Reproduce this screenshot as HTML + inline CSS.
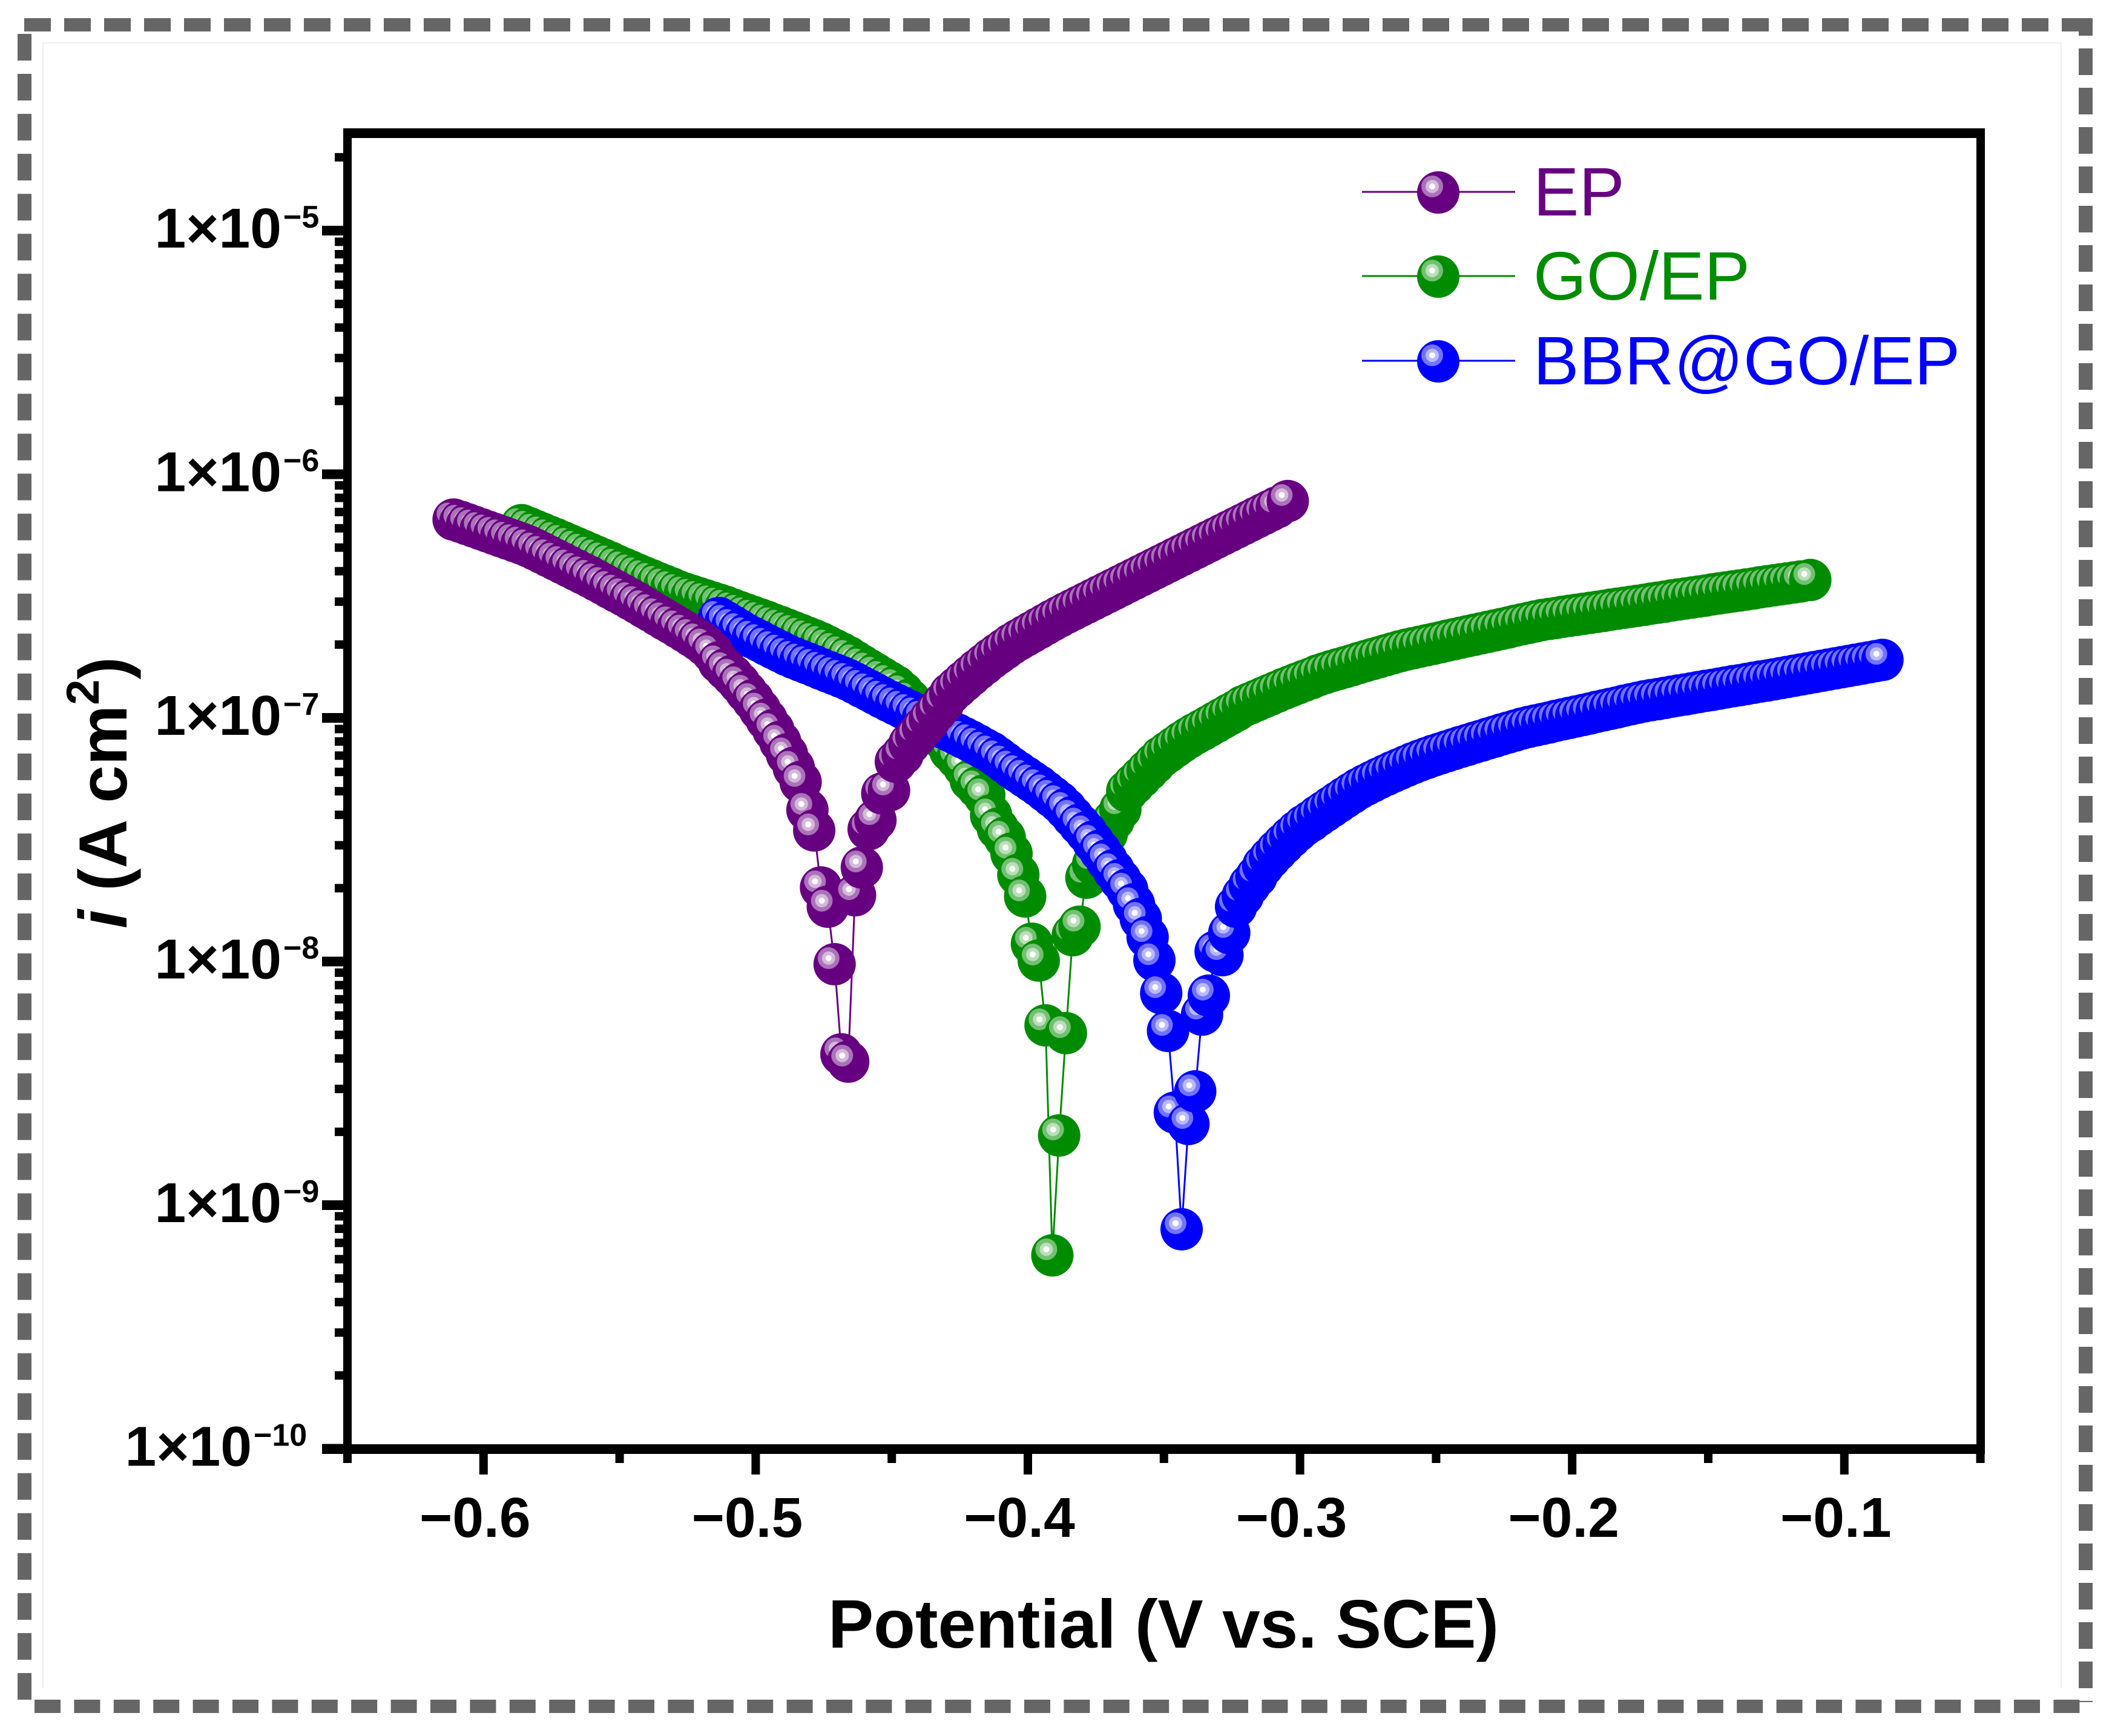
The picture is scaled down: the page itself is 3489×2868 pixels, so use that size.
<!DOCTYPE html>
<html lang="en">
<head>
<meta charset="utf-8">
<title>Polarization curves</title>
<style>
html,body{margin:0;padding:0;background:#fff;}
svg{display:block;font-family:"Liberation Sans",Arial,sans-serif;}
</style>
</head>
<body>
<svg id="chart" xmlns="http://www.w3.org/2000/svg" width="3489" height="2868" viewBox="0 0 3489 2868">
  <rect x="0" y="0" width="3489" height="2868" fill="#ffffff"/>
  <polyline points="71,2788 71,71 3405,71 3405,2788" fill="none" stroke="#eeeeee" stroke-width="2"/>
  <line x1="40" y1="41" x2="3457" y2="41" stroke="#666666" stroke-width="22" stroke-dasharray="44 22"/>
  <line x1="40.5" y1="56" x2="40.5" y2="2812" stroke="#666666" stroke-width="23" stroke-dasharray="44 22.05"/>
  <line x1="3445.5" y1="30" x2="3445.5" y2="2812" stroke="#666666" stroke-width="23" stroke-dasharray="44 21" stroke-dashoffset="15"/>
  <line x1="57" y1="2819" x2="3457" y2="2819" stroke="#666666" stroke-width="22" stroke-dasharray="43 22.4"/>

  <g id="series-layer"></g>
  <g id="tick-layer"></g>

  <rect x="567" y="212" width="14" height="2190" fill="#000"/>
  <rect x="567" y="212" width="2712" height="16" fill="#000"/>
  <rect x="3265" y="212" width="14" height="2190" fill="#000"/>
  <rect x="532" y="2386" width="2747" height="16" fill="#000"/>

  <text x="1368" y="2722" font-size="113" font-weight="700" fill="#000" textLength="1108" lengthAdjust="spacingAndGlyphs">Potential (V vs. SCE)</text>
  <text transform="translate(209,1534) rotate(-90)" font-size="112" font-weight="700" fill="#000"><tspan font-style="italic">i</tspan> (A cm<tspan font-size="76" dy="-46">2</tspan><tspan dy="46">)</tspan></text>

  <g id="legend-layer"></g>
</svg>
<script>
// Potential (V vs. SCE) and log10 of current density.
var epPotential = [
-.611,-.6085,-.606,-.6035,-.601,-.5985,-.596,-.5935,-.591,-.5885,
-.586,-.5835,-.581,-.5785,-.576,-.5735,-.571,-.5685,-.566,-.5635,
-.561,-.5585,-.556,-.5535,-.551,-.5485,-.546,-.5435,-.541,-.5385,
-.536,-.5335,-.531,-.5285,-.526,-.5235,-.521,-.5185,-.516,-.5135,
-.511,-.5085,-.506,-.5035,-.501,-.4985,-.496,-.4935,-.491,-.4885,
-.486,-.4835,-.481,-.4785,-.476,-.4735,-.471,-.4685,-.466,-.4635,
-.461,-.4585,-.456,-.4535,-.451,-.4485,-.446,-.4435,-.441,-.4385,
-.436,-.4335,-.431,-.4285,-.426,-.4235,-.421,-.4185,-.416,-.4135,
-.411,-.4085,-.406,-.4035,-.401,-.3985,-.396,-.3935,-.391,-.3885,
-.386,-.3835,-.381,-.3785,-.376,-.3735,-.371,-.3685,-.366,-.3635,
-.361,-.3585,-.356,-.3535,-.351,-.3485,-.346,-.3435,-.341,-.3385,
-.336,-.3335,-.331,-.3285,-.326,-.3235,-.321,-.3185,-.316,-.3135,
-.311,-.3085,-.3045];
var epLogCurrent = [
-6.186,-6.195,-6.205,-6.215,-6.225,-6.235,-6.245,-6.255,-6.265,-6.275,
-6.285,-6.296,-6.309,-6.323,-6.337,-6.351,-6.365,-6.379,-6.393,-6.407,
-6.421,-6.436,-6.451,-6.467,-6.482,-6.497,-6.513,-6.529,-6.546,-6.562,
-6.579,-6.596,-6.612,-6.629,-6.646,-6.664,-6.682,-6.703,-6.730,-6.772,
-6.800,-6.827,-6.858,-6.893,-6.927,-6.966,-7.007,-7.050,-7.098,-7.150,
-7.205,-7.263,-7.378,-7.462,-7.696,-7.775,-8.011,-8.381,-8.411,-7.728,
-7.614,-7.457,-7.420,-7.310,-7.298,-7.180,-7.150,-7.106,-7.075,-7.040,
-7.006,-6.972,-6.938,-6.900,-6.875,-6.850,-6.826,-6.802,-6.780,-6.757,
-6.737,-6.717,-6.697,-6.680,-6.664,-6.648,-6.632,-6.616,-6.600,-6.585,
-6.570,-6.556,-6.542,-6.528,-6.514,-6.500,-6.486,-6.472,-6.458,-6.444,
-6.430,-6.416,-6.402,-6.388,-6.374,-6.360,-6.346,-6.332,-6.318,-6.304,
-6.290,-6.276,-6.262,-6.248,-6.234,-6.220,-6.206,-6.192,-6.178,-6.164,
-6.150,-6.136,-6.110];

var goPotential = [
-.586,-.5835,-.581,-.5785,-.576,-.5735,-.571,-.5685,-.566,-.5635,
-.561,-.5585,-.556,-.5535,-.551,-.5485,-.546,-.5435,-.541,-.5385,
-.536,-.5335,-.531,-.5285,-.526,-.5235,-.521,-.5185,-.516,-.5135,
-.511,-.5085,-.506,-.5035,-.501,-.4985,-.496,-.4935,-.491,-.4885,
-.486,-.4835,-.481,-.4785,-.476,-.4735,-.471,-.4685,-.466,-.4635,
-.461,-.4585,-.456,-.4535,-.451,-.4485,-.446,-.4435,-.441,-.4385,
-.436,-.4335,-.431,-.4285,-.426,-.4235,-.421,-.4185,-.416,-.4135,
-.411,-.4085,-.406,-.4035,-.401,-.3985,-.396,-.3935,-.391,-.3885,
-.386,-.3835,-.381,-.3785,-.376,-.3735,-.371,-.3685,-.366,-.3635,
-.361,-.3585,-.356,-.3535,-.351,-.3485,-.346,-.3435,-.341,-.3385,
-.336,-.3335,-.331,-.3285,-.326,-.3235,-.321,-.3185,-.316,-.3135,
-.311,-.3085,-.306,-.3035,-.301,-.2985,-.296,-.2935,-.291,-.2885,
-.286,-.2835,-.281,-.2785,-.276,-.2735,-.271,-.2685,-.266,-.2635,
-.261,-.2585,-.256,-.2535,-.251,-.2485,-.246,-.2435,-.241,-.2385,
-.236,-.2335,-.231,-.2285,-.226,-.2235,-.221,-.2185,-.216,-.2135,
-.211,-.2085,-.206,-.2035,-.201,-.1985,-.196,-.1935,-.191,-.1885,
-.186,-.1835,-.181,-.1785,-.176,-.1735,-.171,-.1685,-.166,-.1635,
-.161,-.1585,-.156,-.1535,-.151,-.1485,-.146,-.1435,-.141,-.1385,
-.136,-.1335,-.131,-.1285,-.126,-.1235,-.121,-.1185,-.116,-.1125];
var goLogCurrent = [
-6.209,-6.220,-6.232,-6.243,-6.255,-6.266,-6.278,-6.290,-6.302,-6.314,
-6.326,-6.338,-6.350,-6.362,-6.375,-6.387,-6.399,-6.411,-6.423,-6.434,
-6.446,-6.457,-6.468,-6.480,-6.490,-6.499,-6.508,-6.517,-6.526,-6.535,
-6.544,-6.555,-6.565,-6.575,-6.585,-6.595,-6.605,-6.616,-6.626,-6.637,
-6.648,-6.659,-6.670,-6.681,-6.693,-6.707,-6.721,-6.735,-6.750,-6.768,
-6.785,-6.802,-6.819,-6.836,-6.853,-6.870,-6.895,-6.925,-6.955,-6.985,
-7.017,-7.050,-7.090,-7.135,-7.165,-7.200,-7.256,-7.285,-7.318,-7.400,
-7.455,-7.492,-7.557,-7.644,-7.733,-7.927,-7.996,-8.262,-9.206,-8.714,
-8.294,-7.892,-7.857,-7.656,-7.600,-7.535,-7.475,-7.420,-7.375,-7.301,
-7.272,-7.244,-7.216,-7.188,-7.160,-7.140,-7.120,-7.100,-7.082,-7.065,
-7.050,-7.034,-7.018,-7.002,-6.986,-6.971,-6.953,-6.941,-6.929,-6.917,
-6.905,-6.893,-6.881,-6.870,-6.859,-6.848,-6.838,-6.826,-6.817,-6.808,
-6.800,-6.792,-6.784,-6.775,-6.767,-6.759,-6.751,-6.743,-6.735,-6.727,
-6.720,-6.714,-6.708,-6.702,-6.696,-6.690,-6.683,-6.677,-6.671,-6.665,
-6.659,-6.653,-6.647,-6.641,-6.635,-6.629,-6.622,-6.616,-6.610,-6.604,
-6.598,-6.594,-6.590,-6.585,-6.581,-6.577,-6.573,-6.569,-6.565,-6.561,
-6.556,-6.552,-6.548,-6.544,-6.540,-6.536,-6.531,-6.527,-6.523,-6.518,
-6.514,-6.510,-6.506,-6.502,-6.498,-6.493,-6.489,-6.485,-6.481,-6.477,
-6.473,-6.469,-6.464,-6.460,-6.456,-6.452,-6.448,-6.444,-6.440,-6.434];

var bbrPotential = [
-.5135,-.511,-.5085,-.506,-.5035,-.501,-.4985,-.496,-.4935,-.491,
-.4885,-.486,-.4835,-.481,-.4785,-.476,-.4735,-.471,-.4685,-.466,
-.4635,-.461,-.4585,-.456,-.4535,-.451,-.4485,-.446,-.4435,-.441,
-.4385,-.436,-.4335,-.431,-.4285,-.426,-.4235,-.421,-.4185,-.416,
-.4135,-.411,-.4085,-.406,-.4035,-.401,-.3985,-.396,-.3935,-.391,
-.3885,-.386,-.3835,-.381,-.3785,-.376,-.3735,-.371,-.3685,-.366,
-.3635,-.361,-.3585,-.356,-.3535,-.351,-.3485,-.346,-.3435,-.341,
-.3385,-.336,-.3335,-.331,-.3285,-.326,-.3235,-.321,-.3185,-.316,
-.3135,-.311,-.3085,-.306,-.3035,-.301,-.2985,-.296,-.2935,-.291,
-.2885,-.286,-.2835,-.281,-.2785,-.276,-.2735,-.271,-.2685,-.266,
-.2635,-.261,-.2585,-.256,-.2535,-.251,-.2485,-.246,-.2435,-.241,
-.2385,-.236,-.2335,-.231,-.2285,-.226,-.2235,-.221,-.2185,-.216,
-.2135,-.211,-.2085,-.206,-.2035,-.201,-.1985,-.196,-.1935,-.191,
-.1885,-.186,-.1835,-.181,-.1785,-.176,-.1735,-.171,-.1685,-.166,
-.1635,-.161,-.1585,-.156,-.1535,-.151,-.1485,-.146,-.1435,-.141,
-.1385,-.136,-.1335,-.131,-.1285,-.126,-.1235,-.121,-.1185,-.116,
-.1135,-.111,-.1085,-.106,-.1035,-.101,-.0985,-.096,-.0935,-.091,
-.0885,-.086];
var bbrLogCurrent = [
-6.590,-6.606,-6.623,-6.640,-6.657,-6.671,-6.685,-6.700,-6.714,-6.728,
-6.742,-6.754,-6.765,-6.776,-6.787,-6.799,-6.810,-6.821,-6.832,-6.844,
-6.858,-6.873,-6.887,-6.902,-6.917,-6.931,-6.945,-6.959,-6.972,-6.986,
-7.000,-7.013,-7.027,-7.041,-7.054,-7.068,-7.082,-7.096,-7.111,-7.127,
-7.142,-7.162,-7.183,-7.204,-7.223,-7.242,-7.261,-7.280,-7.302,-7.324,
-7.346,-7.374,-7.406,-7.438,-7.470,-7.508,-7.545,-7.585,-7.625,-7.665,
-7.705,-7.765,-7.825,-7.900,-7.995,-8.130,-8.285,-8.620,-9.099,-8.667,
-8.533,-8.218,-8.140,-7.959,-7.974,-7.883,-7.775,-7.730,-7.686,-7.651,
-7.607,-7.575,-7.545,-7.517,-7.490,-7.465,-7.442,-7.424,-7.403,-7.384,
-7.365,-7.346,-7.327,-7.309,-7.291,-7.276,-7.262,-7.248,-7.235,-7.222,
-7.210,-7.198,-7.186,-7.175,-7.165,-7.155,-7.146,-7.137,-7.128,-7.119,
-7.111,-7.102,-7.094,-7.085,-7.077,-7.068,-7.060,-7.052,-7.044,-7.037,
-7.031,-7.025,-7.019,-7.012,-7.006,-7.000,-6.994,-6.988,-6.982,-6.975,
-6.969,-6.963,-6.957,-6.950,-6.944,-6.938,-6.932,-6.927,-6.923,-6.918,
-6.913,-6.908,-6.904,-6.899,-6.894,-6.889,-6.885,-6.880,-6.875,-6.870,
-6.866,-6.861,-6.856,-6.851,-6.847,-6.842,-6.837,-6.832,-6.827,-6.822,
-6.817,-6.812,-6.807,-6.802,-6.797,-6.792,-6.787,-6.782,-6.777,-6.772,
-6.767,-6.762];

var xMajorTicks = [-0.6, -0.5, -0.4, -0.3, -0.2, -0.1];
var xMajorLabels = ["\u22120.6", "\u22120.5", "\u22120.4", "\u22120.3", "\u22120.2", "\u22120.1"];
var xMinorTicks = [-0.65, -0.55, -0.45, -0.35, -0.25, -0.15, -0.05];
var yDecades = [-5, -6, -7, -8, -9, -10];
var yMinorMultipliers = [2, 3, 4, 5, 6, 7, 8, 9];
var legendNames = ["EP", "GO/EP", "BBR@GO/EP"];

var NS = "http://www.w3.org/2000/svg";
var PURPLE = "#660080", GREEN = "#008c00", BLUE = "#0000ff";

function xScale(v) { return 574 + (v + 0.65) * 4496; }
function yScale(lg) { return 381 + (-5 - lg) * 402.5; }

function make(tag, attrs, parent) {
  var el = document.createElementNS(NS, tag);
  for (var k in attrs) el.setAttribute(k, attrs[k]);
  parent.appendChild(el);
  return el;
}

function drawMarker(parent, cx, cy, color, kind) {
  var g = make("g", {}, parent);
  
  
  make("circle", { cx: cx, cy: cy, r: 35, fill: color }, g);
  make("circle", { cx: cx - 10, cy: cy - 10, r: 18, fill: "#ffffff", "fill-opacity": 0.45 }, g);
  make("circle", { cx: cx - 10, cy: cy - 10, r: 11, fill: "#ffffff", "fill-opacity": 0.5 }, g);
  make("circle", { cx: cx - 10, cy: cy - 10, r: 5, fill: "#ffffff" }, g);
}

function drawSeries(name, potentials, logs, color) {
  var layer = document.getElementById("series-layer");
  var g = make("g", {}, layer);
  
  
  var pts = [];
  for (var i = 0; i < potentials.length; i++) {
    pts.push(xScale(potentials[i]).toFixed(1) + "," + yScale(logs[i]).toFixed(1));
  }
  var line = make("polyline", { points: pts.join(" "), fill: "none", stroke: color, "stroke-width": 3 }, g);
  
  
  for (var j = 0; j < potentials.length; j++) {
    drawMarker(g, xScale(potentials[j]), yScale(logs[j]), color, 'series-point');
  }
}

drawSeries('series-go-ep', goPotential, goLogCurrent, GREEN);
drawSeries('series-bbr-go-ep', bbrPotential, bbrLogCurrent, BLUE);
drawSeries('series-ep', epPotential, epLogCurrent, PURPLE);

var ticks = document.getElementById("tick-layer");
var topY = yScale(Math.log10(2.5e-5));

xMajorTicks.forEach(function (v, i) {
  var t = make("rect", { x: xScale(v) - 7, y: 2395, width: 14, height: 41, fill: "#000" }, ticks);
  
  
  var lab = make("text", { x: xScale(v) - 14, y: 2539, "font-size": 93, "font-weight": 700, "text-anchor": "middle", fill: "#000" }, ticks);
  
  
  lab.textContent = xMajorLabels[i];
});
xMinorTicks.forEach(function (v) {
  var t = make("rect", { x: xScale(v) - 7, y: 2395, width: 14, height: 22, fill: "#000" }, ticks);
  
  
});

yDecades.forEach(function (d) {
  var y = yScale(d);
  var t = make("rect", { x: 532, y: y - 8, width: 42, height: 16, fill: "#000" }, ticks);
  
  
  var right = d === -10 ? 416 : 465;
  var lab = make("text", { x: right, y: y + 28, "font-size": 93, "font-weight": 700, "text-anchor": "end", fill: "#000" }, ticks);
  
  
  lab.textContent = "1\u00d710";
  var sup = make("text", { x: right + 3, y: y - 5, "font-size": 52, "font-weight": 700, fill: "#000" }, ticks);
  
  
  sup.textContent = "\u2212" + Math.abs(d);
  yMinorMultipliers.forEach(function (m) {
    [d, d - 1].forEach(function (base) {
      if (base === d && d !== -5) return;
      if (base < -10) return;
      var my = yScale(base + Math.log10(m));
      if (my < topY) return;
      var mt = make("rect", { x: 553, y: my - 7, width: 21, height: 14, fill: "#000" }, ticks);
      
      
    });
  });
});

var legend = document.getElementById("legend-layer");
var legendColors = [PURPLE, GREEN, BLUE];
legendNames.forEach(function (name, i) {
  var ly = [317, 456, 596][i];
  var entry = make("g", {}, legend);
  
  
  var ln = make("line", { x1: 2250, x2: 2503, y1: ly, y2: ly, stroke: legendColors[i], "stroke-width": 3 }, entry);
  
  
  drawMarker(entry, 2376, ly + 1, legendColors[i], 'legend-marker');
  var tx = make("text", { x: 2533, y: ly + 39, "font-size": 113, fill: legendColors[i] }, entry);
  
  
  tx.textContent = name;
});
</script>
</body>
</html>
